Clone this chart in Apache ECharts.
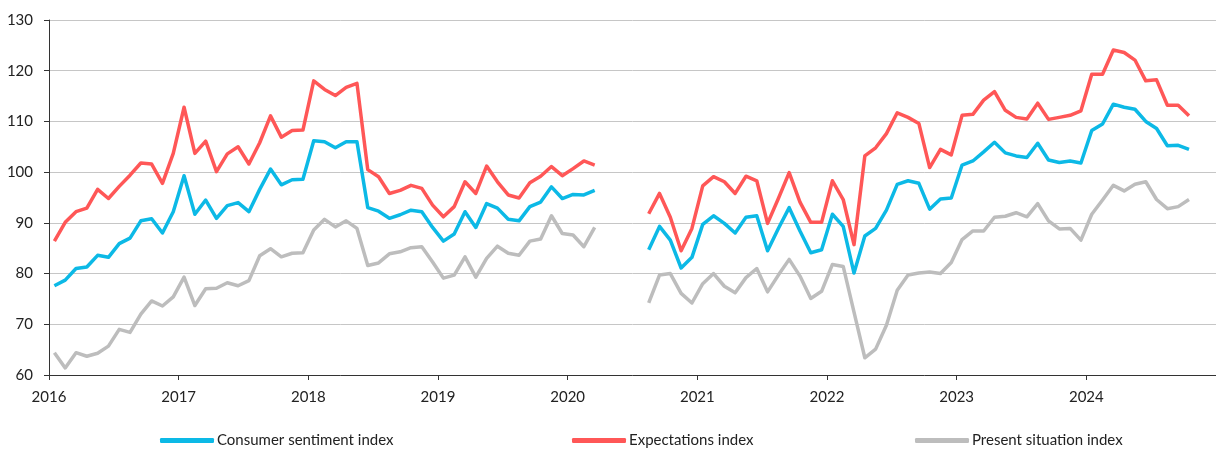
<!DOCTYPE html>
<html>
<head>
<meta charset="utf-8">
<title>Consumer sentiment</title>
<script src="https://cdn.jsdelivr.net/npm/echarts@6/dist/echarts.min.js"></script>
<style>
  html, body { margin: 0; padding: 0; background: #fff; }
  #chart { width: 1216px; height: 450px; }
</style>
</head>
<body>
<div id="chart"></div>
<script>
// Monthly readings, Jan 2016 – Oct 2024 (null = no survey, Apr–Jul 2020)
const startYear = 2016;
const yearTicks = [2016, 2017, 2018, 2019, 2020, 2021, 2022, 2023, 2024];

const sentiment = [
  77.6, 78.7, 81.0, 81.3, 83.6, 83.2, 85.9, 87.0, 90.4, 90.8, 88.0, 92.2,
  99.3, 91.7, 94.5, 90.9, 93.4, 94.0, 92.2, 96.6, 100.6, 97.5, 98.5, 98.6,
  106.2, 106.0, 104.8, 106.0, 106.0, 93.0, 92.3, 90.9, 91.6, 92.5, 92.2, 89.1,
  86.4, 87.8, 92.2, 89.1, 93.8, 92.9, 90.7, 90.4, 93.2, 94.1, 97.1, 94.8,
  95.6, 95.5, 96.4, null, null, null, null, 84.7, 89.3, 86.6, 81.1, 83.2,
  89.7, 91.4, 89.9, 88.0, 91.1, 91.4, 84.5, 88.9, 93.0, 88.4, 84.1, 84.7,
  91.7, 89.3, 80.1, 87.4, 88.9, 92.5, 97.6, 98.3, 97.8, 92.7, 94.7, 94.9,
  101.4, 102.2, 104.0, 105.9, 103.8, 103.2, 102.9, 105.7, 102.4, 101.9, 102.2, 101.8,
  108.2, 109.5, 113.4, 112.8, 112.4, 110.0, 108.6, 105.2, 105.3, 104.5
];

const expectations = [
  86.4, 90.1, 92.2, 92.9, 96.6, 94.8, 97.2, 99.4, 101.8, 101.6, 97.8, 103.7,
  112.8, 103.7, 106.1, 100.1, 103.6, 105.0, 101.6, 105.8, 111.1, 106.9, 108.2, 108.3,
  118.0, 116.3, 115.1, 116.7, 117.5, 100.5, 99.1, 95.8, 96.4, 97.4, 96.8, 93.5,
  91.2, 93.2, 98.1, 95.8, 101.2, 98.1, 95.5, 94.9, 97.9, 99.2, 101.1, 99.3,
  100.7, 102.2, 101.4, null, null, null, null, 91.8, 95.8, 91.1, 84.5, 88.9,
  97.3, 99.1, 98.1, 95.8, 99.2, 98.3, 89.9, 94.8, 99.9, 94.1, 90.1, 90.1,
  98.3, 94.6, 85.7, 103.2, 104.8, 107.6, 111.7, 110.8, 109.6, 100.9, 104.5, 103.4,
  111.2, 111.4, 114.2, 115.9, 112.2, 110.8, 110.5, 113.6, 110.4, 110.8, 111.2, 112.1,
  119.3, 119.3, 124.1, 123.6, 122.1, 118.0, 118.2, 113.2, 113.2, 111.1
];

const present = [
  64.4, 61.4, 64.4, 63.7, 64.3, 65.7, 69.0, 68.4, 72.0, 74.6, 73.6, 75.4,
  79.3, 73.7, 77.0, 77.1, 78.2, 77.6, 78.6, 83.5, 84.9, 83.3, 84.0, 84.1,
  88.6, 90.7, 89.2, 90.4, 88.9, 81.6, 82.1, 83.9, 84.3, 85.1, 85.3, 82.3,
  79.1, 79.7, 83.3, 79.3, 83.0, 85.4, 84.0, 83.6, 86.4, 86.8, 91.4, 87.9,
  87.6, 85.3, 89.1, null, null, null, null, 74.2, 79.7, 80.0, 76.1, 74.2,
  78.0, 80.0, 77.5, 76.2, 79.2, 81.0, 76.4, 79.7, 82.8, 79.5, 75.1, 76.5,
  81.8, 81.4, 72.4, 63.4, 65.1, 69.8, 76.7, 79.7, 80.1, 80.3, 80.0, 82.2,
  86.7, 88.4, 88.4, 91.1, 91.3, 92.0, 91.2, 93.8, 90.4, 88.8, 88.9, 86.6,
  91.7, 94.5, 97.4, 96.3, 97.6, 98.1, 94.6, 92.8, 93.2, 94.6
];

const names = ['Consumer sentiment index', 'Expectations index', 'Present situation index'];
const colors = ['#0cb9e6', '#ff5757', '#bdbdbd'];

// Each reading sits at mid-month on a fractional-year axis
function toPairs(values) {
  return values.map((v, i) => [startYear + (i + 0.5) / 12, v == null ? '-' : v]);
}

const font = 'Lato, "Open Sans", sans-serif';
const textColor = '#222';

const chart = echarts.init(document.getElementById('chart'), null, { renderer: 'canvas' });

const legendLefts = [155, 567, 910];

chart.setOption({
  animation: false,
  grid: { left: 49, right: 0, top: 20, bottom: 75 },
  legend: names.map((n, k) => ({
    data: [n],
    left: legendLefts[k],
    top: 428,
    itemWidth: 54,
    itemHeight: 5,
    icon: 'roundRect',
    itemGap: 0,
    textStyle: { fontFamily: font, fontSize: 15, color: textColor, padding: [0, 0, 0, -2] }
  })),
  xAxis: {
    type: 'value',
    min: 2016,
    max: 2025,
    interval: 1,
    splitLine: { show: false },
    axisLine: { lineStyle: { color: '#333', width: 1 } },
    axisTick: { show: true, length: 5, lineStyle: { color: '#333' }, customValues: yearTicks },
    axisLabel: {
      customValues: yearTicks,
      formatter: v => String(v),
      margin: 15,
      fontFamily: font,
      fontSize: 15,
      color: textColor
    }
  },
  yAxis: {
    type: 'value',
    min: 60,
    max: 130,
    interval: 10,
    axisLine: { show: true, lineStyle: { color: '#333', width: 1 } },
    axisTick: { show: true, length: 5, lineStyle: { color: '#333' } },
    splitLine: { lineStyle: { color: '#c6c6c6', width: 1 } },
    axisLabel: { margin: 16, fontFamily: font, fontSize: 15, color: textColor }
  },
  series: [sentiment, expectations, present].map((vals, k) => ({
    name: names[k],
    type: 'line',
    data: toPairs(vals),
    showSymbol: false,
    symbol: 'none',
    connectNulls: false,
    lineStyle: { color: colors[k], width: 3.5, join: 'round' },
    itemStyle: { color: colors[k] },
    z: 3 - k
  }))
});
</script>
</body>
</html>
